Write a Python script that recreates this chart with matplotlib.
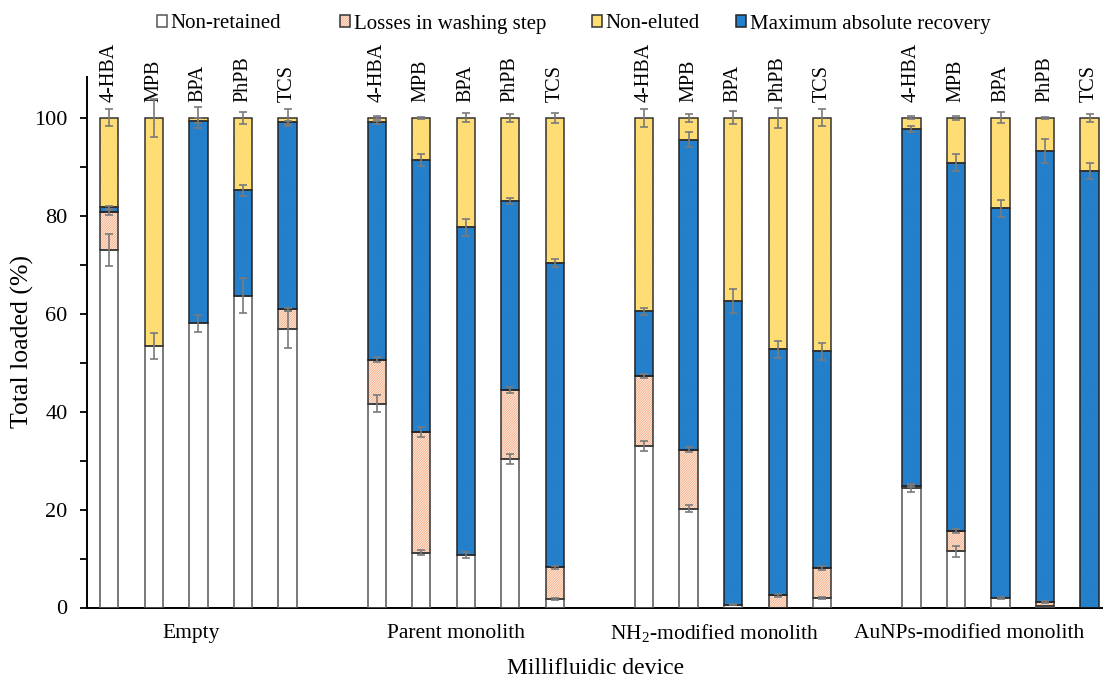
import matplotlib
matplotlib.use("Agg")

import matplotlib.pyplot as plt
from matplotlib.ticker import MultipleLocator
import numpy as np

plt.rcParams["font.family"] = ["Liberation Serif", "DejaVu Serif"]
plt.rcParams["mathtext.fontset"] = "custom"
plt.rcParams["mathtext.rm"] = "Liberation Serif"
plt.rcParams["hatch.linewidth"] = 0.6

groups = ["Empty", "Parent monolith", r"NH$_2$-modified monolith", "AuNPs-modified monolith"]
compounds = ["4-HBA", "MPB", "BPA", "PhPB", "TCS"]

# segment heights (%), group by group, compounds in order
non_retained = [73.0, 53.4, 58.0, 63.7, 56.8,
                41.6, 11.2, 10.8, 30.3, 1.8,
                33.0, 20.2, 0.6, 0.0, 1.9,
                24.3, 11.5, 2.0, 0.3, 0.0]
losses = [7.7, 0.0, 0.0, 0.0, 4.1,
          9.0, 24.7, 0.0, 14.1, 6.4,
          14.3, 12.0, 0.0, 2.5, 6.1,
          0.6, 4.2, 0.0, 0.8, 0.0]
max_recovery = [1.0, 0.0, 41.4, 21.5, 38.2,
                48.5, 55.4, 66.8, 38.6, 62.1,
                13.2, 63.3, 62.0, 50.2, 44.3,
                72.8, 75.1, 79.5, 92.1, 89.1]
non_eluted = [18.3, 46.6, 0.6, 14.8, 0.9,
              0.9, 8.7, 22.4, 17.0, 29.7,
              39.5, 4.5, 37.4, 47.3, 47.7,
              2.3, 9.2, 18.5, 6.8, 10.9]

# error bars (SD) at the top of each segment
err_non_retained = [3.2, 2.7, 1.8, 3.5, 3.8,
                    1.7, 0.5, 0.6, 1.0, 0.2,
                    1.0, 0.8, 0.1, 0.0, 0.2,
                    0.7, 1.1, 0.2, 0.0, 0.0]
err_losses = [0.5, 0.0, 0.0, 0.0, 0.3,
              0.5, 1.0, 0.0, 0.6, 0.3,
              0.4, 0.5, 0.0, 0.3, 0.4,
              0.3, 0.4, 0.0, 0.2, 0.0]
err_max_recovery = [0.3, 0.0, 0.5, 1.1, 0.3,
                    0.3, 1.2, 1.8, 0.6, 0.8,
                    0.7, 1.5, 2.4, 1.7, 1.7,
                    0.7, 1.7, 1.7, 2.4, 1.7]
err_non_eluted = [1.7, 3.9, 2.1, 1.2, 1.7,
                  0.3, 0.2, 0.9, 0.8, 1.0,
                  1.8, 0.8, 1.3, 2.0, 1.7,
                  0.3, 0.4, 1.1, 0.2, 0.8]

# name, values, errors, face, hatch, hatch colour, outline
stack = [
    ("Non-retained", non_retained, err_non_retained, "white", None, "white", "#555555"),
    ("Losses in washing step", losses, err_losses, "#fff3ec", "/" * 14, "#f4a77c", "#333333"),
    ("Maximum absolute recovery", max_recovery, err_max_recovery, "#1a74c2", "+" * 12, "#2580cb", "#222222"),
    ("Non-eluted", non_eluted, err_non_eluted, "#ffd966", "\\" * 10, "#ffe38f", "#333333"),
]

x = np.array([6 * g + i for g in range(len(groups)) for i in range(len(compounds))])
width = 0.41

fig = plt.figure(figsize=(11.03, 6.82), dpi=100)
ax = fig.add_axes([87 / 1103, 1 - 607.5 / 682, 1 - 87 / 1103, (607.5 - 76.6) / 682])

bottom = np.zeros(len(x))
handles = {}
tops = []
for name, vals, errs, face, hatch, hcol, ecol in stack:
    vals = np.array(vals)
    fill = ax.bar(x, vals, width, bottom=bottom, color=face, hatch=hatch,
                  edgecolor=hcol, linewidth=0, zorder=2)
    outline = ax.bar(x, vals, width, bottom=bottom, fill=False,
                     edgecolor=ecol, linewidth=1.1, zorder=3)
    for b, v in zip(outline, vals):
        if v <= 0:
            b.set_visible(False)
    handles[name] = (fill[0], outline[0])
    top = bottom + vals
    tops.append((top, np.array(errs), vals))
    bottom = top

for top, errs, vals in tops:
    m = (errs > 0) & (vals > 0)
    ax.errorbar(x[m], top[m], yerr=errs[m], fmt="none", ecolor="#7a7a7a",
                elinewidth=1.2, capsize=3, capthick=1.2, zorder=4)

# compound labels above the bars
for xi in x:
    ax.text(xi, 103.2, compounds[xi % 6], rotation=90, ha="center", va="bottom",
            fontsize=14.5, clip_on=False)

# group labels under the axis
group_pos = [1.83, 7.79, 13.58, 19.3]
for gp, gname in zip(group_pos, groups):
    ax.text(gp, -5.3, gname, ha="center", va="center", fontsize=15.5,
            clip_on=False)

ax.set_xlim(-0.5, 22.3)
ax.set_ylim(0, 108.4)
ax.set_xticks([])
ax.yaxis.set_major_locator(MultipleLocator(20))
ax.yaxis.set_minor_locator(MultipleLocator(10))
ax.tick_params(axis="y", which="both", direction="out", length=5, width=1.3,
               labelsize=16, pad=9)
for s in ["top", "right"]:
    ax.spines[s].set_visible(False)
ax.spines["left"].set_linewidth(1.4)
ax.spines["bottom"].set_linewidth(1.4)

fig.text(22 / 1103, 1 - 342 / 682, "Total loaded (%)", rotation=90,
         ha="center", va="center", fontsize=18.5)
fig.text(596 / 1103, 1 - 668 / 682, "Millifluidic device", ha="center",
         va="center", fontsize=17)

# legend entries placed one by one along the top
order = ["Non-retained", "Losses in washing step", "Non-eluted", "Maximum absolute recovery"]
legend_left = [157, 340, 592, 736]
for name, left in zip(order, legend_left):
    fig.legend([handles[name]], [name], loc="center left",
               bbox_to_anchor=(left / 1103, 1 - 24 / 682), frameon=False,
               fontsize=15, handlelength=0.5, handleheight=0.5,
               handletextpad=0.15, borderpad=0, borderaxespad=0)

fig.savefig("out.png", dpi=100)
